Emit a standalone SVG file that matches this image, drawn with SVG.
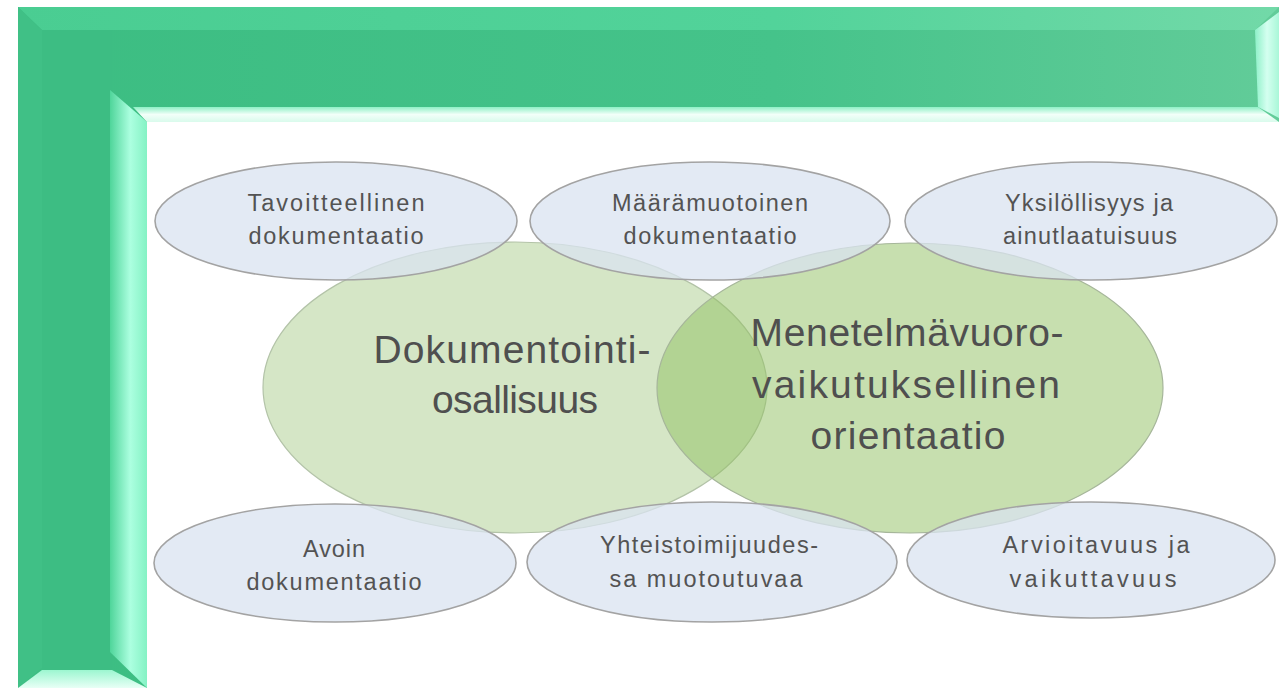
<svg xmlns="http://www.w3.org/2000/svg" width="1279" height="688" viewBox="0 0 1279 688">
<defs>
<style>
.small{fill:#d9e3f0;fill-opacity:0.75;stroke:#a3a3a3;stroke-width:1.6}
.st{font-family:"Liberation Sans",Arial,sans-serif;font-size:23.5px;fill:#535353;text-anchor:middle}
.bt{font-family:"Liberation Sans",Arial,sans-serif;font-size:39px;fill:#4f4f4f;text-anchor:middle}
</style>
<linearGradient id="topFace" x1="0" y1="0" x2="1" y2="0">
<stop offset="0" stop-color="#3cbd82"/>
<stop offset="0.6" stop-color="#45c38a"/>
<stop offset="1" stop-color="#62cc99"/>
</linearGradient>
<linearGradient id="topBevel" x1="0" y1="0" x2="1" y2="0">
<stop offset="0" stop-color="#4acd92"/>
<stop offset="0.6" stop-color="#52d39a"/>
<stop offset="1" stop-color="#72d9a8"/>
</linearGradient>
<linearGradient id="innerBottom" x1="0" y1="0" x2="0" y2="1">
<stop offset="0" stop-color="#8ff0c6"/>
<stop offset="0.5" stop-color="#f2fff9"/>
<stop offset="1" stop-color="#d9fbec"/>
</linearGradient>
<linearGradient id="innerRight" x1="0" y1="0" x2="1" y2="0">
<stop offset="0" stop-color="#4fd59a"/>
<stop offset="0.55" stop-color="#acffe0"/>
<stop offset="1" stop-color="#84f2c4"/>
</linearGradient>
<linearGradient id="capRight" x1="0" y1="0" x2="1" y2="0">
<stop offset="0" stop-color="#8ef0c8"/>
<stop offset="0.5" stop-color="#d4fff0"/>
<stop offset="1" stop-color="#a9f7d8"/>
</linearGradient>
<linearGradient id="bottomBevel" x1="0" y1="0" x2="0" y2="1">
<stop offset="0" stop-color="#9cf6d0"/>
<stop offset="1" stop-color="#e8fff6"/>
</linearGradient>
</defs>
<rect width="1279" height="688" fill="#ffffff"/>
<g id="frame">
<polygon points="18,7 1279,7 1279,122 147,122 147,688 18,688" fill="url(#topFace)"/>
<polygon points="18,7 1279,7 1255,30 42,30" fill="url(#topBevel)"/>
<polygon points="18,7 42,30 42,668 18,688" fill="#40c086"/>
<rect x="42" y="30" width="70" height="650" fill="#3dbd83"/>
<polygon points="110,90 147,122 147,688 110,652" fill="url(#innerRight)"/>
<polygon points="133,107 1258,107 1279,122 147,122" fill="url(#innerBottom)"/>
<polygon points="1255,30 1279,12 1279,118 1258,107" fill="url(#capRight)"/>
<polygon points="18,688 42,670 112,670 147,688" fill="url(#bottomBevel)"/>
</g>
<g id="connectors"></g>
<g id="big-left">
<ellipse cx="515" cy="387.5" rx="252" ry="145.5" fill="#d5e6c6" stroke="#b3c3a8" stroke-width="1.2"/>
</g>
<g id="big-right">
<ellipse cx="910" cy="388" rx="253" ry="145" fill="#8fbf5f" fill-opacity="0.5" stroke="#a6b69a" stroke-width="1.2"/>
</g>
<g id="n1"><ellipse class="small" cx="336" cy="221" rx="181" ry="59"/>
<text class="st" x="336" y="211" textLength="177" lengthAdjust="spacing">Tavoitteellinen</text>
<text class="st" x="336" y="244" textLength="175" lengthAdjust="spacing">dokumentaatio</text></g>
<g id="n2"><ellipse class="small" cx="710" cy="221" rx="180" ry="59"/>
<text class="st" x="710" y="211" textLength="196" lengthAdjust="spacing">Määrämuotoinen</text>
<text class="st" x="710" y="244" textLength="173" lengthAdjust="spacing">dokumentaatio</text></g>
<g id="n3"><ellipse class="small" cx="1091" cy="221" rx="186" ry="59"/>
<text class="st" x="1089" y="211" textLength="168" lengthAdjust="spacing">Yksilöllisyys ja</text>
<text class="st" x="1090" y="244" textLength="174" lengthAdjust="spacing">ainutlaatuisuus</text></g>
<g id="n4"><ellipse class="small" cx="335" cy="563" rx="181" ry="59"/>
<text class="st" x="334" y="557" textLength="62" lengthAdjust="spacing">Avoin</text>
<text class="st" x="334" y="590" textLength="175" lengthAdjust="spacing">dokumentaatio</text></g>
<g id="n5"><ellipse class="small" cx="712" cy="562" rx="185" ry="60"/>
<text class="st" x="709" y="553" textLength="218" lengthAdjust="spacing">Yhteistoimijuudes-</text>
<text class="st" x="706" y="587" textLength="193" lengthAdjust="spacing">sa muotoutuvaa</text></g>
<g id="n6"><ellipse class="small" cx="1091" cy="560" rx="184" ry="58"/>
<text class="st" x="1096" y="553" textLength="187" lengthAdjust="spacing">Arvioitavuus ja</text>
<text class="st" x="1093" y="587" textLength="167" lengthAdjust="spacing">vaikuttavuus</text></g>
<g id="labels-big">
<text class="bt" x="512" y="363" textLength="277" lengthAdjust="spacing">Dokumentointi-</text>
<text class="bt" x="515" y="413" textLength="166" lengthAdjust="spacing">osallisuus</text>
<text class="bt" x="907" y="346" textLength="313" lengthAdjust="spacing">Menetelmävuoro-</text>
<text class="bt" x="906" y="398" textLength="308" lengthAdjust="spacing">vaikutuksellinen</text>
<text class="bt" x="908" y="449" textLength="195" lengthAdjust="spacing">orientaatio</text>
</g>
</svg>
